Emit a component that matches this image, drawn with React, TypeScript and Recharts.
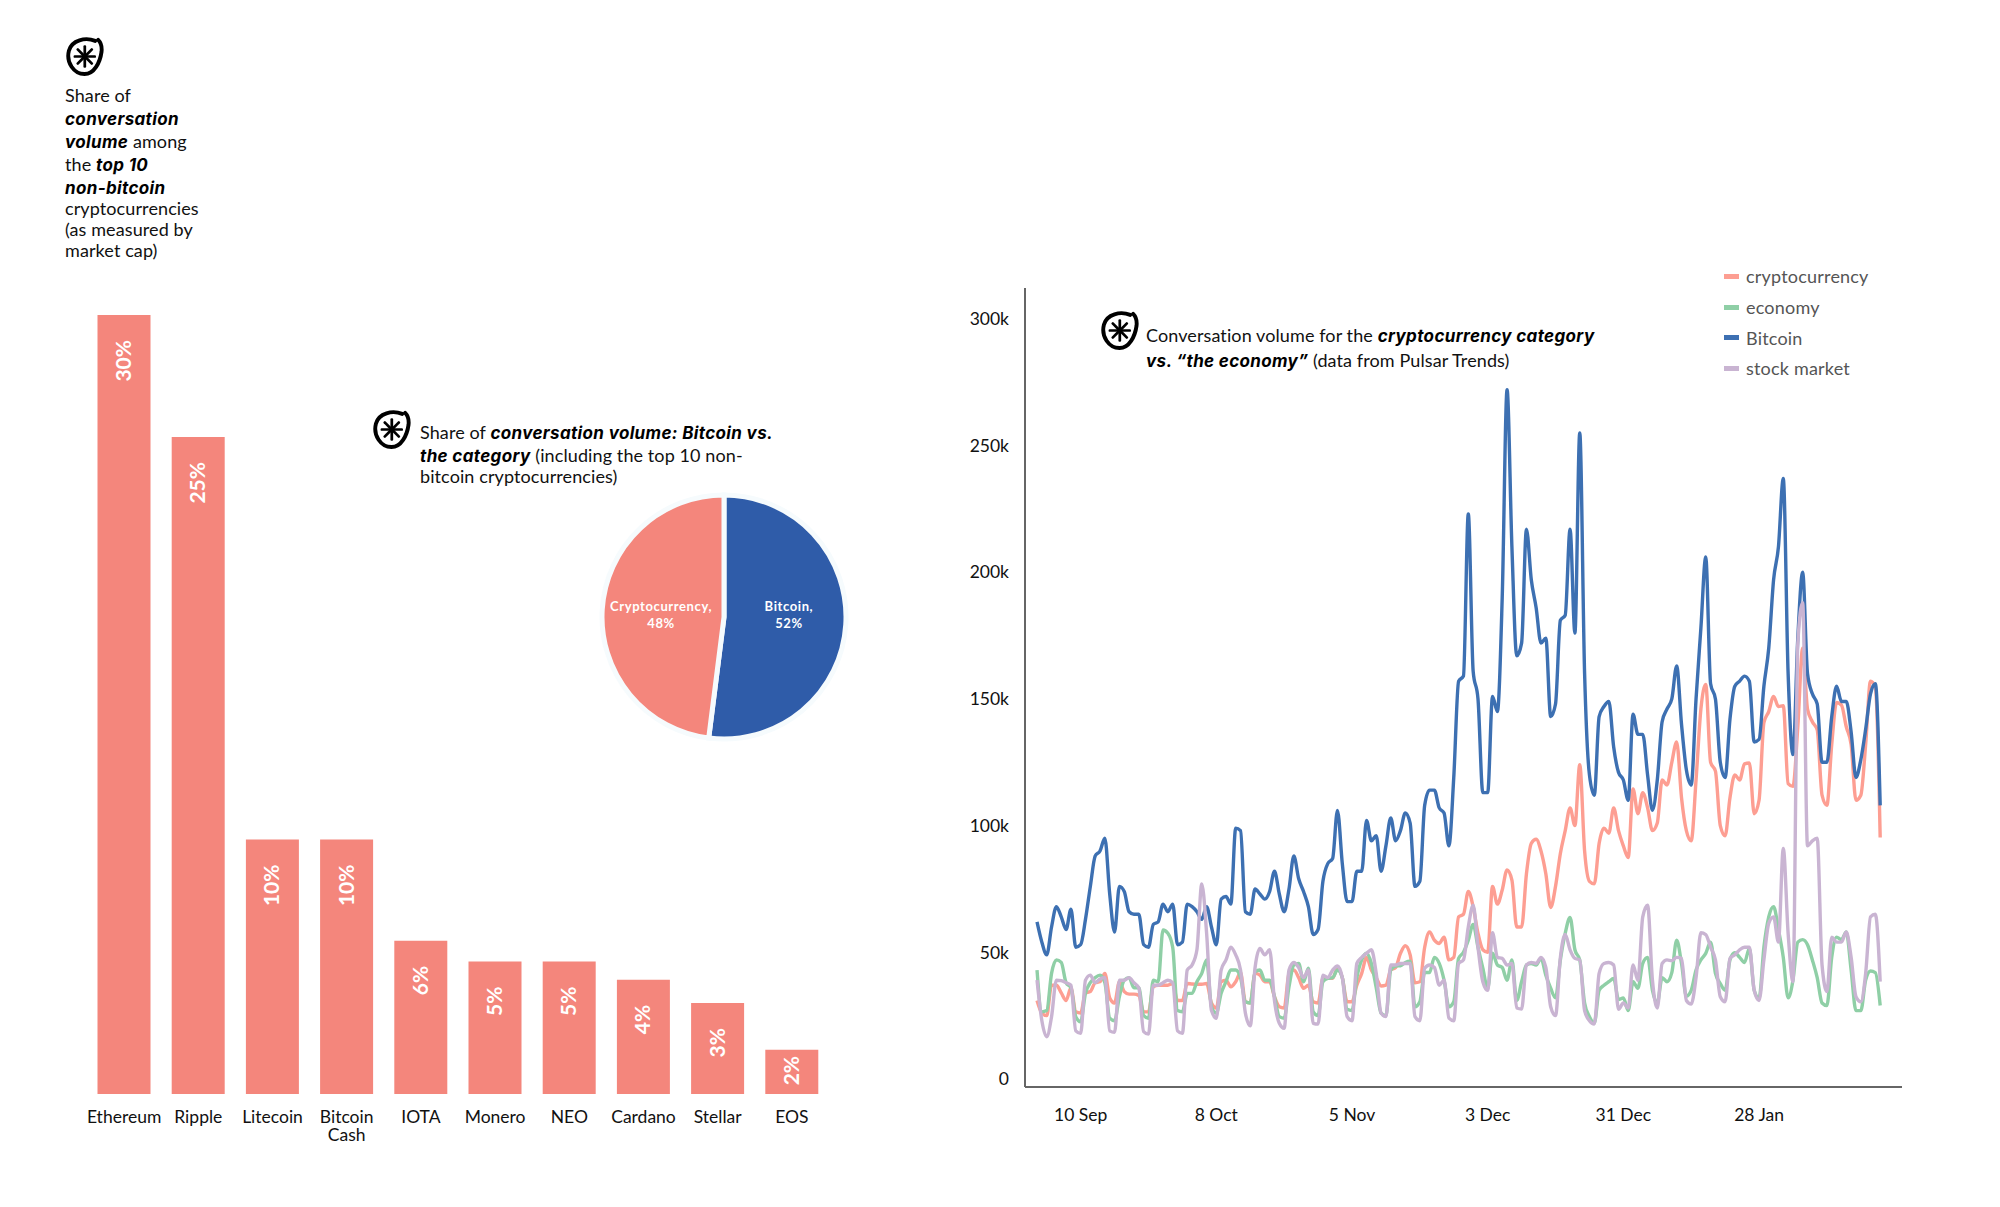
import React from "react";
import { BarChart, Bar, XAxis, YAxis, LabelList, PieChart, Pie, Cell, LineChart, Line, Legend } from "recharts";

const FONT = "Lato, 'Noto Sans', sans-serif";

// Bar chart
const coins = ["Ethereum", "Ripple", "Litecoin", "Bitcoin Cash", "IOTA", "Monero", "NEO", "Cardano", "Stellar", "EOS"];
const coinShare = [30, 25.3, 9.8, 9.8, 5.9, 5.1, 5.1, 4.4, 3.5, 1.7];
const coinLabels = ["30%", "25%", "10%", "10%", "6%", "5%", "5%", "4%", "3%", "2%"];

// Pie chart
const pieNames = ["Bitcoin", "Cryptocurrency"];
const pieValues = [52, 48];
const pieColors = ["#2F5CA9", "#F4867C"];

// Line chart (thousands of conversations, daily)
const tickDays = [9, 37, 65, 93, 121, 149];
const tickLabels = ["10 Sep", "8 Oct", "5 Nov", "3 Dec", "31 Dec", "28 Jan"];
const yTicks = [0, 50000, 100000, 150000, 200000, 250000, 300000];

const bitcoin = [62,54,49,60,68,64,59,67,52,53,63,76,88,90,95,73,58,76,74,66,65,65,53,52,61,62,69,66,69,53,54,69,68,66,63,68,60,53,71,72,69,99,98,66,65,75,73,71,74,82,73,66,75,88,79,74,68,57,59,78,85,87,106,85,70,70,82,82,102,94,96,82,92,103,94,98,105,101,76,78,108,114,114,107,105,92,119,157,159,223,161,150,113,113,151,145,190,272,210,167,172,217,197,186,172,174,143,148,181,183,217,176,255,160,120,112,143,147,149,131,121,118,110,144,136,136,120,106,118,141,146,150,163,140,122,116,150,178,206,156,150,125,119,142,155,157,159,157,133,134,155,170,197,210,237,160,128,174,200,160,152,148,125,125,143,155,149,149,137,119,126,138,152,156,108];
const crypto = [31,26,25,37,37,34,31,36,26.5,26,34,34.5,38,38.4,41.7,32,30,38.4,34.5,33.5,33.5,33,26.5,26.5,36.4,37,37,37,37.7,31,31,37.7,37.5,37.4,37.4,37.7,30,28,38.4,39,36.4,38.4,42,30.5,30,41.7,41,38.4,38.4,32.5,28.5,28,41.7,43,40,35.8,37,30.5,30,39.7,39.7,39.7,43.7,40,30.5,30.5,37,41.7,48,43,40,36.7,37,43,44,49.6,52.6,49,38,38.4,52,58,54.8,53.5,56,47,48,64,65,74,68,57.5,51,50,76,69,74.6,82.5,78.5,60,60,81,93,94.6,90,81,67.7,76,89,98,107,100,124,90,78,77,93,99,97,107,98,92,87.4,114.5,104.7,113,107,98,101,118,116,125,133,111,98,94,118,146,155.7,125,121.5,100,96,111,120,118,124.4,124.7,104.7,110,140.6,145,151,147,147.3,116.6,115.5,139,170,146,141,137.8,112,108,132,148.6,147.6,139,132,110,112,132,157,154.7,95.3];
const economy = [43,26.5,27,41.7,47,46,38,36,24.6,22.6,33.8,38,40,41,38,24,23,32.5,39,40,36,36,25,24,39,38.4,58.8,57.5,52,27,26.5,33.8,33.8,38.4,41.7,47,28.5,26,33.8,38.4,43,43,40,30.5,30,42.3,43,39,39,32.5,24.6,24,36.4,45,45.6,38.4,43.7,26.5,25,38.4,39.7,40,43,40,27.5,27,40,47,49.6,45.6,36,26,25,43,44.6,44.7,46,46.5,28.5,30.5,42,42,48,45.6,39,28.5,30.5,47.6,50,54.8,61,52,43.7,35.8,49.6,45,44,39,47,31,38.4,45,45.6,45,47.6,41,35.8,32,47,57.5,63.8,51,47,30,24.6,22,35,37,38.4,39.7,31.4,32,27,38.4,35.8,45.6,48,35,30,40,38.4,42,54.8,45.6,32.7,35,43,47,49.6,54,41.7,37.7,35,47,49.8,48,46,51.5,35,31.8,52,64,68,59,48,32,39,54,55,53,47,40,30,29,48,56,55,58,43,27,27,39,42.6,42,29];
const stock = [39,23,16.7,24.6,39,38.8,38,37,19,18,39,41,38,39.5,40,19,18.4,39,39,40,38,36,18.7,17.7,37,37,38,39,38,19,18,43,45,51,77,57.5,27,24,43,47,52,49,43,26,21,44,51.5,49,51,31,22,20,43,46,44,40,43,22,21.7,41,40,43,44.6,40,24.6,23,45.6,48,49.6,51,41.7,26,24.6,45,45,45.6,45.6,45.6,24.6,23,43.7,45,44,37,39,24,23,45.6,47,60,68.6,52,38.4,35,57.7,48,47.6,45,45.6,28,27.6,45,46,45.6,48,44,28.5,25,48,57,51,47.6,47,27,23,21.7,41.7,45.6,46,45,27.5,30,28,45,39,64,68.6,39,28,45.6,47,46.7,48,47.6,31,29.6,40,57.7,57,52,47,32.5,30.5,47.6,49,51,52,52,35,31,47,61.4,64,54,91,57.5,38.4,172,188,92,94,95,45,34.5,56,54,54,58,48,32.5,30.5,41.7,64,65,38.4];

const barRows = coins.map((name, i) => ({ name, share: coinShare[i], label: coinLabels[i] }));
const pieRows = pieNames.map((name, i) => ({ name, value: pieValues[i] }));
const lineRows = bitcoin.map((_, i) => ({
  day: i,
  cryptocurrency: crypto[i] * 1000,
  economy: economy[i] * 1000,
  Bitcoin: bitcoin[i] * 1000,
  "stock market": stock[i] * 1000,
}));
const seriesNames = ["cryptocurrency", "economy", "Bitcoin", "stock market"];
const seriesColors = ["#FD9E92", "#8FCFA6", "#3D70B2", "#C9B4D2"];

const BOLD: React.CSSProperties = { fontFamily: "Inter, 'Open Sans', sans-serif", fontWeight: 700, fontStyle: "italic", color: "#000", fontSize: 17, letterSpacing: 0.35 };

function Logo({ left, top, size = 39 }: { left: number; top: number; size?: number }) {
  const rays = [0, 45, 90, 135, 180, 225, 270, 315];
  return (
    <svg width={size} height={size} viewBox="0 0 40 40" style={{ position: "absolute", left, top }}>
      <path d="M31 4 C 21 0 7 3 4 14 C 1 26 9 38 20 38 C 30 38 36 26 37.5 15 C 38 10 37 6 34 3" fill="none" stroke="#000" strokeWidth={4} strokeLinecap="round" />
      {rays.map((a) => (
        <rect key={a} x={18.9} y={8.5} width={2.8} height={11.5} rx={1.2} fill="#000" transform={`rotate(${a} 20.3 20)`} />
      ))}
    </svg>
  );
}

function Line1({ left, top, children }: { left: number; top: number; children: React.ReactNode }) {
  return (
    <div style={{ position: "absolute", left, top: top - 12, height: 22, lineHeight: "22px", fontSize: 18, letterSpacing: 0.1, whiteSpace: "nowrap", color: "#111", fontFamily: FONT }}>
      {children}
    </div>
  );
}

function CoinTick({ x, y, payload }: any) {
  const words = String(payload.value) === "Bitcoin Cash" ? ["Bitcoin", "Cash"] : [String(payload.value)];
  return (
    <text x={x} y={y} textAnchor="middle" fontSize={17.5} fill="#111" fontFamily={FONT}>
      {words.map((w, i) => (
        <tspan key={w} x={x} dy={i === 0 ? 0 : 18}>{w}</tspan>
      ))}
    </text>
  );
}

function BarText({ x, y, width, height, value }: any) {
  const cx = x + width / 2;
  const top = y + Math.min(25, Math.max(6, (height - 32) / 2));
  return (
    <text transform={`translate(${cx + 7} ${top}) rotate(-90)`} textAnchor="end" fontSize={21} fontWeight={700} fill="#fff" fontFamily={FONT}>
      {value}
    </text>
  );
}

function PieText({ cx, cy, midAngle, outerRadius, name, value }: any) {
  const x = cx + 1 + outerRadius * 0.525 * Math.cos((midAngle * Math.PI) / 180);
  return (
    <text x={x} y={cy - 6} textAnchor="middle" fontSize={13} letterSpacing={0.6} fontWeight={700} fill="#fff" fontFamily={FONT}>
      <tspan x={x}>{name},</tspan>
      <tspan x={x} dy={17}>{value}%</tspan>
    </text>
  );
}

function LegendBox() {
  return (
    <div>
      {seriesNames.map((n, i) => (
        <div key={n} style={{ display: "flex", alignItems: "center", height: 30.7, fontFamily: FONT, fontSize: 18, letterSpacing: 0.2, color: "#555" }}>
          <span style={{ display: "inline-block", width: 15, height: 5, background: seriesColors[i], marginLeft: 1, marginRight: 7 }} />
          {n}
        </div>
      ))}
    </div>
  );
}

export default function App() {
  return (
    <div style={{ position: "absolute", left: 0, top: 0, width: 2000, height: 1207, background: "#fff", overflow: "hidden", fontFamily: FONT }}>
      <Logo left={65} top={37} />
      <Line1 left={65} top={96}>Share of</Line1>
      <Line1 left={65} top={119}><span style={BOLD}>conversation</span></Line1>
      <Line1 left={65} top={142}><span style={BOLD}>volume</span> among</Line1>
      <Line1 left={65} top={165}>the <span style={BOLD}>top 10</span></Line1>
      <Line1 left={65} top={188}><span style={BOLD}>non-bitcoin</span></Line1>
      <Line1 left={65} top={209}>cryptocurrencies</Line1>
      <Line1 left={65} top={230}>(as measured by</Line1>
      <Line1 left={65} top={251}>market cap)</Line1>

      <div style={{ position: "absolute", left: 0, top: 290 }}>
        <BarChart width={860} height={880} data={barRows} margin={{ top: 25, right: 31, bottom: 36, left: 87 }} barCategoryGap={10.5}>
          <XAxis dataKey="name" axisLine={false} tickLine={false} interval={0} height={40} tick={<CoinTick />} tickMargin={23} />
          <YAxis hide domain={[0, 30]} />
          <Bar dataKey="share" fill="#F4867C" isAnimationActive={false}>
            <LabelList dataKey="label" content={<BarText />} />
          </Bar>
        </BarChart>
      </div>

      <Logo left={372} top={410} />
      <Line1 left={420} top={433}>Share of <span style={BOLD}>conversation volume: Bitcoin vs.</span></Line1>
      <Line1 left={420} top={456}><span style={BOLD}>the category</span> (including the top 10 non-</Line1>
      <Line1 left={420} top={477}>bitcoin cryptocurrencies)</Line1>

      <div style={{ position: "absolute", left: 569, top: 462 }}>
        <PieChart width={300} height={300}>
          <Pie data={pieRows} dataKey="value" nameKey="name" cx={150} cy={150} outerRadius={122} startAngle={90} endAngle={-270} stroke="#F6FBFD" strokeWidth={5} labelLine={false} label={<PieText />} isAnimationActive={false}>
            {pieRows.map((r, i) => (
              <Cell key={r.name} fill={pieColors[i]} />
            ))}
          </Pie>
        </PieChart>
      </div>

      <div style={{ position: "absolute", left: 950, top: 270 }}>
        <LineChart width={1000} height={860} data={lineRows} margin={{ top: 18, right: 48, bottom: 13, left: 15 }}>
          <XAxis dataKey="day" type="number" domain={[-2.48, 178.5]} ticks={tickDays} tickFormatter={(d: number) => tickLabels[tickDays.indexOf(d)]} height={30} tickLine={false} axisLine={{ stroke: "#666", strokeWidth: 2 }} tick={{ fontSize: 17.5, fill: "#111", fontFamily: FONT }} tickMargin={16} allowDataOverflow />
          <YAxis type="number" domain={[-3157, 312157]} ticks={yTicks} tickFormatter={(v: number) => (v === 0 ? "0" : `${v / 1000}k`)} width={60} tickLine={false} axisLine={{ stroke: "#666", strokeWidth: 2 }} tick={{ fontSize: 17.5, fill: "#111", fontFamily: FONT }} tickMargin={10} allowDataOverflow />
          <Legend layout="vertical" align="center" verticalAlign="middle" content={<LegendBox />} wrapperStyle={{ left: 773, top: -9, width: 220 }} />
          {seriesNames.map((n, i) => (
            <Line key={n} type="monotone" dataKey={n} stroke={seriesColors[i]} strokeWidth={3.4} dot={false} isAnimationActive={false} />
          ))}
        </LineChart>
      </div>

      <Logo left={1100} top={311} />
      <Line1 left={1146} top={336}>Conversation volume for the <span style={BOLD}>cryptocurrency category</span></Line1>
      <Line1 left={1146} top={361}><span style={BOLD}>vs. “the economy”</span> (data from Pulsar Trends)</Line1>
    </div>
  );
}
